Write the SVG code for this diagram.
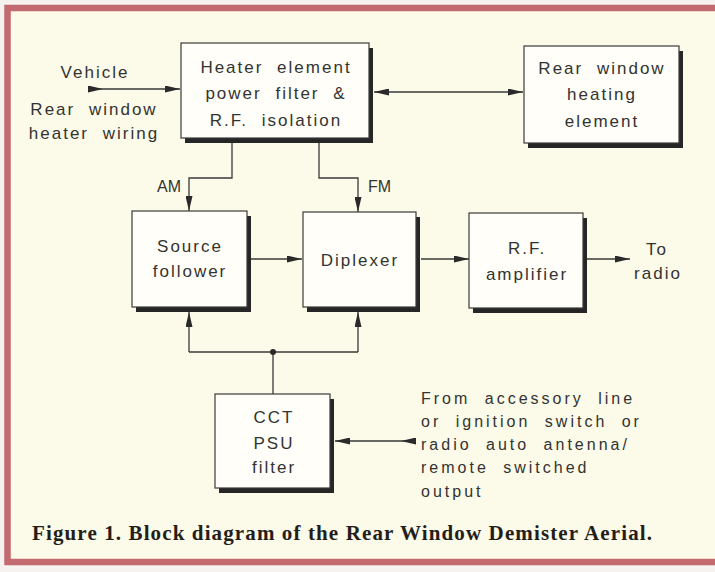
<svg xmlns="http://www.w3.org/2000/svg" width="715" height="572" viewBox="0 0 715 572">
<defs>
<style>
.t{font-family:"Liberation Sans",Arial,sans-serif;font-size:17px;fill:#333331;letter-spacing:2px;word-spacing:7px}
.m{text-anchor:middle}
.s{font-size:16px;letter-spacing:3px}
.box{fill:#fffef8;stroke:#3a3a3a;stroke-width:1.2}
.sh{fill:#262626}
.ln{fill:none;stroke:#3a3a3a;stroke-width:1.3}
.cap{font-family:"Liberation Serif","Times New Roman",serif;font-weight:bold;font-size:21px;fill:#241e1a}
</style>
<marker id="ah" viewBox="0 0 15 7" refX="15" refY="3.5" markerWidth="15" markerHeight="7" markerUnits="userSpaceOnUse" orient="auto-start-reverse"><path d="M0,0 L15,3.5 L0,7 z" fill="#2a2a2a"/></marker>
<marker id="ahs" viewBox="0 0 15 7" refX="0" refY="3.5" markerWidth="15" markerHeight="7" markerUnits="userSpaceOnUse" orient="auto"><path d="M0,0 L15,3.5 L0,7 z" fill="#2a2a2a"/></marker>
</defs>
<rect x="0" y="0" width="715" height="572" fill="#f5f2ef"/>
<rect x="7.5" y="8" width="720" height="554" fill="#fcfae8" stroke="#c26a70" stroke-width="6.5"/>

<g id="connectors">
<path class="ln" d="M88,89 H180" marker-start="url(#ahs)" marker-end="url(#ah)"/>
<path class="ln" d="M374,92 H523" marker-start="url(#ah)" marker-end="url(#ah)"/>
<path class="ln" d="M232,143 V178 H189 V211" marker-end="url(#ah)"/>
<path class="ln" d="M319,143 V178 H358 V212" marker-end="url(#ah)"/>
<path class="ln" d="M251,259 H302" marker-end="url(#ah)"/>
<path class="ln" d="M421,259 H469" marker-end="url(#ah)"/>
<path class="ln" d="M587,259 H630" marker-end="url(#ah)"/>
<path class="ln" d="M189,352 H358"/>
<path class="ln" d="M189,352 V312" marker-end="url(#ah)"/>
<path class="ln" d="M358,352 V312" marker-end="url(#ah)"/>
<path class="ln" d="M273,394 V352"/>
<circle cx="273" cy="352" r="3" fill="#2a2a2a"/>
<path class="ln" d="M416,441 H335" marker-start="url(#ahs)" marker-end="url(#ah)"/>
<text class="t" x="181" y="192" text-anchor="end" style="font-size:16px;letter-spacing:0">AM</text>
<text class="t" x="368" y="192" style="font-size:16px;letter-spacing:0">FM</text>
</g>

<g id="vehicle-label">
<text class="t m" x="95" y="78">Vehicle</text>
<text class="t m" x="94" y="115">Rear window</text>
<text class="t m" x="94" y="139">heater wiring</text>
</g>

<g id="heater-filter">
<rect class="sh" x="185" y="48" width="188" height="95"/>
<rect class="box" x="181" y="43" width="188" height="95"/>
<text class="t m" x="276" y="73">Heater element</text>
<text class="t m" x="276" y="99">power filter &amp;</text>
<text class="t m" x="276" y="126">R.F. isolation</text>
</g>

<g id="rear-window-element">
<rect class="sh" x="528" y="51" width="155" height="97"/>
<rect class="box" x="524" y="46" width="155" height="97"/>
<text class="t m" x="602" y="74">Rear window</text>
<text class="t m" x="602" y="100">heating</text>
<text class="t m" x="602" y="127">element</text>
</g>

<g id="source-follower">
<rect class="sh" x="136" y="216" width="115" height="96"/>
<rect class="box" x="132" y="211" width="115" height="96"/>
<text class="t m" x="190" y="252">Source</text>
<text class="t m" x="190" y="277">follower</text>
</g>

<g id="diplexer">
<rect class="sh" x="307" y="217" width="113" height="95"/>
<rect class="box" x="303" y="212" width="113" height="95"/>
<text class="t m" x="360" y="266">Diplexer</text>
</g>

<g id="rf-amplifier">
<rect class="sh" x="473" y="218" width="114" height="95"/>
<rect class="box" x="469" y="213" width="114" height="95"/>
<text class="t m" x="527" y="254">R.F.</text>
<text class="t m" x="527" y="280">amplifier</text>
</g>

<g id="to-radio">
<text class="t m" x="657" y="255">To</text>
<text class="t m" x="658" y="279">radio</text>
</g>

<g id="psu-filter">
<rect class="sh" x="219" y="399" width="115" height="94"/>
<rect class="box" x="215" y="394" width="115" height="94"/>
<text class="t m" x="274" y="423">CCT</text>
<text class="t m" x="274" y="449">PSU</text>
<text class="t m" x="274" y="473">filter</text>
</g>

<g id="source-label">
<text class="t s" x="421" y="404">From accessory line</text>
<text class="t s" x="421" y="427">or ignition switch or</text>
<text class="t s" x="421" y="450">radio auto antenna/</text>
<text class="t s" x="421" y="473">remote switched</text>
<text class="t s" x="421" y="497">output</text>
</g>

<text class="cap" x="32" y="540" textLength="620" lengthAdjust="spacing">Figure 1. Block diagram of the Rear Window Demister Aerial.</text>
</svg>
